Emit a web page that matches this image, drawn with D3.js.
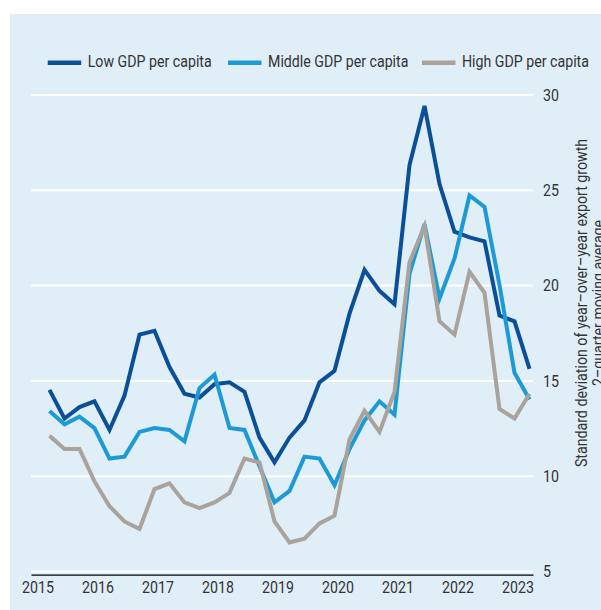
<!DOCTYPE html>
<html>
<head>
<meta charset="utf-8">
<script src="https://cdn.jsdelivr.net/npm/d3@7"></script>
<style>
  body { margin: 0; background: #fff; }
  text { font-family: Roboto, "Noto Sans", sans-serif; fill: #333; }
</style>
</head>
<body>
<svg></svg>
<script>
// quarterly observations, 2015Q1 .. 2023Q1
let quarters = []
for (let y = 2015; y <= 2023; y++) {
  for (let q = 1; q <= 4; q++) {
    if (y === 2023 && q > 1) break
    quarters.push(y + "Q" + q)
  }
}

let lowGdp = [14.5, 13.0, 13.6, 13.9, 12.4, 14.2, 17.4, 17.6, 15.7, 14.3, 14.1, 14.8, 14.9, 14.4, 12.0, 10.7,
  12.0, 12.9, 14.9, 15.5, 18.5, 20.8, 19.7, 19.0, 26.3, 29.4, 25.3, 22.8, 22.5, 22.3, 18.4, 18.1, 15.6]
let middleGdp = [13.4, 12.7, 13.1, 12.5, 10.9, 11.0, 12.3, 12.5, 12.4, 11.8, 14.6, 15.3, 12.5, 12.4, 10.5, 8.6,
  9.2, 11.0, 10.9, 9.5, 11.4, 12.9, 13.9, 13.2, 20.6, 23.2, 19.3, 21.4, 24.7, 24.1, 20.0, 15.4, 14.0]
let highGdp = [12.1, 11.4, 11.4, 9.7, 8.4, 7.6, 7.2, 9.3, 9.6, 8.6, 8.3, 8.6, 9.1, 10.9, 10.7, 7.6,
  6.5, 6.7, 7.5, 7.9, 11.9, 13.4, 12.3, 14.4, 21.2, 23.1, 18.1, 17.4, 20.7, 19.6, 13.5, 13.0, 14.3]

let seriesNames = ["Low GDP per capita", "Middle GDP per capita", "High GDP per capita"]
let seriesColors = ["#0a4f98", "#1d9ad6", "#aaa39b"]
let yearTicks = [2015, 2016, 2017, 2018, 2019, 2020, 2021, 2022, 2023]
let yTicks = [5, 10, 15, 20, 25, 30]
let titleLines = ["Standard deviation of year–over–year export growth", "2–quarter moving average"]

let width = 601
let height = 610
let sx = 0.86   // narrow the face a bit, source uses a condensed font
let fontSize = 16.5

let svg = d3.select("svg").attr("width", width).attr("height", height)

svg.append("rect")
   .attr("x", 10).attr("y", 14)
   .attr("width", width - 10).attr("height", height - 14)
   .attr("fill", "#e0eef8")

let xScale = d3.scaleLinear().domain([2014.892, 2023.258]).range([31, 533])
let yScale = d3.scaleLinear().domain([5, 30]).range([571, 94.5])

let quarterTime = (s) => +s.slice(0, 4) + (+s.slice(5) - 1) / 4 + 0.2

// gridlines + right labels
let yAxis = d3.axisRight(yScale)
              .tickValues(yTicks)
              .tickSize(-(533 - 31))
              .tickFormat(d3.format("d"))
let gy = svg.append("g")
   .attr("transform", "translate(533,0)")
   .call(yAxis)
gy.select(".domain").remove()
gy.selectAll("line").attr("stroke", "#fff").attr("stroke-width", 2)
gy.selectAll("text")
  .attr("x", 0).attr("dy", "0.34em")
  .attr("transform", "translate(10,0) scale(" + sx + ",1)")
  .style("font-size", fontSize + "px")
  .attr("fill", "#333")

// x axis
let xAxis = d3.axisBottom(xScale)
              .tickValues(yearTicks)
              .tickSize(0)
              .tickSizeOuter(0)
              .tickFormat(d3.format("d"))
let gx = svg.append("g")
   .attr("transform", "translate(0,574.7)")
   .call(xAxis)
gx.select(".domain").attr("stroke", "#000").attr("stroke-width", 1.3)
gx.selectAll("text")
  .attr("y", 0).attr("dy", 0)
  .attr("transform", "translate(0,18.5) scale(" + sx + ",1)")
  .style("font-size", fontSize + "px")
  .attr("fill", "#333")

// lines
let line = d3.line()
             .x((d, i) => xScale(quarterTime(quarters[i])))
             .y((d) => yScale(d))

let allSeries = [lowGdp, middleGdp, highGdp]
svg.selectAll(".series")
   .data(allSeries)
   .enter()
   .append("path")
   .attr("class", "series")
   .attr("d", (d) => line(d))
   .attr("fill", "none")
   .attr("stroke", (d, i) => seriesColors[i])
   .attr("stroke-width", 4)

// legend
let legendX = [47.7, 228, 422]
let legend = svg.selectAll(".legend")
   .data(seriesNames)
   .enter()
   .append("g")
   .attr("class", "legend")
   .attr("transform", (d, i) => "translate(" + legendX[i] + ",0)")
legend.append("line")
   .attr("x1", 0).attr("x2", 33.5)
   .attr("y1", 62.7).attr("y2", 62.7)
   .attr("stroke", (d, i) => seriesColors[i])
   .attr("stroke-width", 4.5)
legend.append("text")
   .attr("transform", "translate(40,67.3) scale(" + sx + ",1)")
   .style("font-size", fontSize + "px")
   .text((d) => d)

// y title, rotated
svg.selectAll(".ytitle")
   .data(titleLines)
   .enter()
   .append("text")
   .attr("class", "ytitle")
   .attr("text-anchor", "middle")
   .attr("transform", (d, i) => "translate(" + (587 + i * 17) + ",303) rotate(-90) scale(" + sx + ",1)")
   .style("font-size", fontSize + "px")
   .text((d) => d)
</script>
</body>
</html>
